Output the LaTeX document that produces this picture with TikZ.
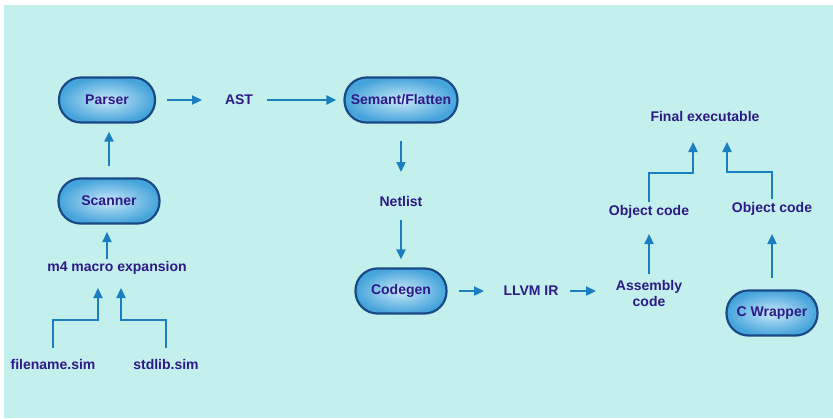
\documentclass[tikz,border=0pt]{standalone}
\usepackage{fontspec}
\setmainfont{Liberation Sans}
\usetikzlibrary{arrows.meta}
\definecolor{bg}{HTML}{C3EFEC}
\definecolor{txt}{HTML}{2E1A87}
\definecolor{arr}{HTML}{1A7FC1}
\definecolor{inner}{HTML}{C8E8F8}
\definecolor{outer}{HTML}{45A4DB}
\definecolor{bord}{HTML}{1A4A85}
\tikzset{
  lbl/.style={text=txt,font=\fontsize{14}{16}\selectfont\bfseries,align=center},
  pill/.style={lbl,rectangle,rounded corners=22pt,draw=bord,line width=2.2pt,inner color=inner,outer color=outer,minimum height=45pt,inner sep=0pt},
  conn/.style={draw=arr,line width=2.3pt,-{Triangle[length=10pt,width=9pt]}},
}
\begin{document}
\begin{tikzpicture}[x=1pt,y=-1pt]
\useasboundingbox (0,0) rectangle (833,418);
\fill[bg] (4,5) rectangle (833,418);
% nodes
\node[pill,minimum width=96pt] (parser) at (107,100) {Parser};
\node[pill,minimum width=101pt] (scanner) at (109,201) {Scanner};
\node[pill,minimum width=113pt] (semant) at (401,100) {Semant/Flatten};
\node[pill,minimum width=91pt] (codegen) at (401,291) {Codegen};
\node[pill,minimum width=91pt] (cwrap) at (772,313) {C Wrapper};
\node[lbl] (ast) at (239,100) {AST};
\node[lbl] (netlist) at (401,201) {Netlist};
\node[lbl] (llvm) at (531,291) {LLVM IR};
\node[lbl] (asm) at (649,293) {Assembly\\code};
\node[lbl] (obj1) at (649,212) {Object code};
\node[lbl] (obj2) at (772,209) {Object code};
\node[lbl] (final) at (705,116) {Final executable};
\node[lbl] (m4) at (117,268) {m4 macro expansion};
\node[lbl] (fn) at (53,364) {filename.sim};
\node[lbl] (std) at (166,364) {stdlib.sim};
\coordinate (f1) at (693,142);
\coordinate (f2) at (727,142);
\coordinate (m0) at (107,232);
\coordinate (m1) at (98,288);
\coordinate (m2) at (121,288);
% connectors
\draw[conn] ([yshift=11pt]scanner.north) -- ([yshift=-8pt]parser.south -| scanner.north);
\draw[conn] ([xshift=11pt]parser.east) -- ([xshift=-37pt]ast.center);
\draw[conn] ([xshift=28pt]ast.center) -- ([xshift=-7pt]semant.west);
\draw[conn] ([yshift=-17pt]semant.south) -- ([yshift=29pt]netlist.center);
\draw[conn] ([yshift=-19pt]netlist.center) -- ([yshift=8pt]codegen.north);
\draw[conn] ([xshift=11pt]codegen.east) -- ([xshift=-47pt]llvm.center);
\draw[conn] ([xshift=39pt]llvm.center) -- ([xshift=-53pt]llvm.center -| asm.center);
\draw[conn] ([yshift=19pt]asm.center) -- ([yshift=-22pt]obj1.center);
\draw[conn] ([yshift=11pt]cwrap.north) -- ([yshift=-25pt]obj2.center);
\draw[conn] ([yshift=10pt]obj1.center) |- (693,173) -- (f1);
\draw[conn] ([yshift=10pt]obj2.center) |- (727,172) -- (f2);
\draw[conn] ([yshift=9pt]m4.center -| m0) -- (m0);
\draw[conn] ([yshift=16pt]fn.center) |- (98,320) -- (m1);
\draw[conn] ([yshift=16pt]std.center) |- (121,320) -- (m2);
\end{tikzpicture}
\end{document}
